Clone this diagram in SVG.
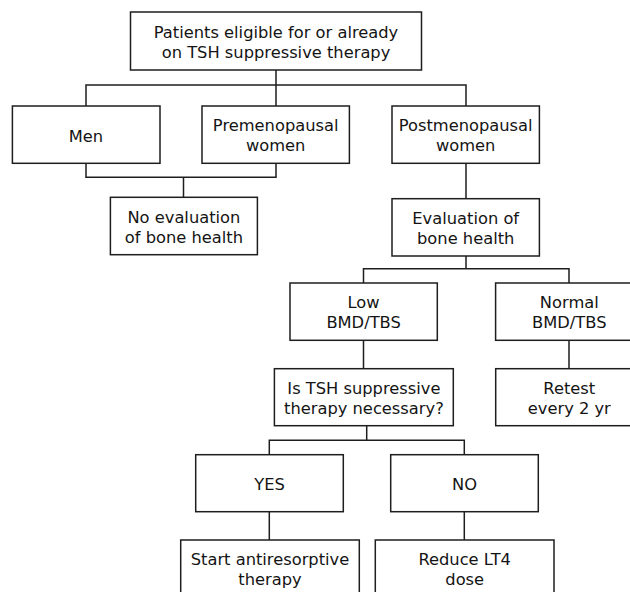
<svg xmlns="http://www.w3.org/2000/svg" width="630" height="592" viewBox="0 0 630 592">
<style>
.box{fill:#fff;stroke:#1e1e1e;stroke-width:1.5}
.ln{fill:none;stroke:#1e1e1e;stroke-width:1.5}
text{font-family:"DejaVu Sans",sans-serif;font-size:16.3px;fill:#141414;text-anchor:middle}
</style>
<rect width="630" height="592" fill="#fff"/>
<g id="connectors">
<path class="ln" d="M276,70V106M86,106V85H466V106"/>
<path class="ln" d="M86,163.3V177.3H276V163.3M183.5,177.3V197.3"/>
<path class="ln" d="M466,163.3V198.7"/>
<path class="ln" d="M466,256V268.7M363.5,283V268.7H569V283"/>
<path class="ln" d="M363.5,340.3V368.7M569,340.3V368.7"/>
<path class="ln" d="M366.7,425.7V440.3M269.3,454.7V440.3H464.3V454.7"/>
<path class="ln" d="M269.3,511.7V540M464.3,511.7V540"/>
</g>
<g id="n-top"><rect class="box" x="130.5" y="12" width="291" height="58"/><text x="276" y="37.5">Patients eligible for or already</text><text x="276" y="58">on TSH suppressive therapy</text></g>
<g id="n-men"><rect class="box" x="12.4" y="106" width="147.6" height="57.3"/><text x="86" y="141.7">Men</text></g>
<g id="n-pre"><rect class="box" x="202" y="106" width="147.4" height="57.3"/><text x="275.7" y="131">Premenopausal</text><text x="275.7" y="151">women</text></g>
<g id="n-post"><rect class="box" x="392" y="106" width="147.4" height="57.3"/><text x="465.7" y="131">Postmenopausal</text><text x="465.7" y="151">women</text></g>
<g id="n-noeval"><rect class="box" x="110.4" y="197.3" width="147" height="57.4"/><text x="183.9" y="222.8">No evaluation</text><text x="183.9" y="242.8">of bone health</text></g>
<g id="n-eval"><rect class="box" x="392" y="198.7" width="147.4" height="57.3"/><text x="465.7" y="224.3">Evaluation of</text><text x="465.7" y="244.2">bone health</text></g>
<g id="n-low"><rect class="box" x="290" y="283" width="147.3" height="57.3"/><text x="363.6" y="308.4">Low</text><text x="363.6" y="328.3">BMD/TBS</text></g>
<g id="n-normal"><rect class="box" x="495.6" y="283" width="147.4" height="57.3"/><text x="569.3" y="308.4">Normal</text><text x="569.3" y="328.3">BMD/TBS</text></g>
<g id="n-tsh"><rect class="box" x="274.4" y="368.7" width="178.9" height="57"/><text x="363.9" y="394">Is TSH suppressive</text><text x="363.9" y="413.7">therapy necessary?</text></g>
<g id="n-retest"><rect class="box" x="495.7" y="368.7" width="147.4" height="57"/><text x="569.3" y="394">Retest</text><text x="569.3" y="413.7">every 2 yr</text></g>
<g id="n-yes"><rect class="box" x="195.7" y="454.7" width="147.6" height="57"/><text x="269.5" y="490">YES</text></g>
<g id="n-no"><rect class="box" x="390.7" y="454.7" width="147.6" height="57"/><text x="464.5" y="490">NO</text></g>
<g id="n-start"><rect class="box" x="180.7" y="540" width="178.6" height="60"/><text x="270" y="565.3">Start antiresorptive</text><text x="270" y="585">therapy</text></g>
<g id="n-reduce"><rect class="box" x="375.3" y="540" width="178.7" height="60"/><text x="464.7" y="565.3">Reduce LT4</text><text x="464.7" y="585">dose</text></g>
</svg>
